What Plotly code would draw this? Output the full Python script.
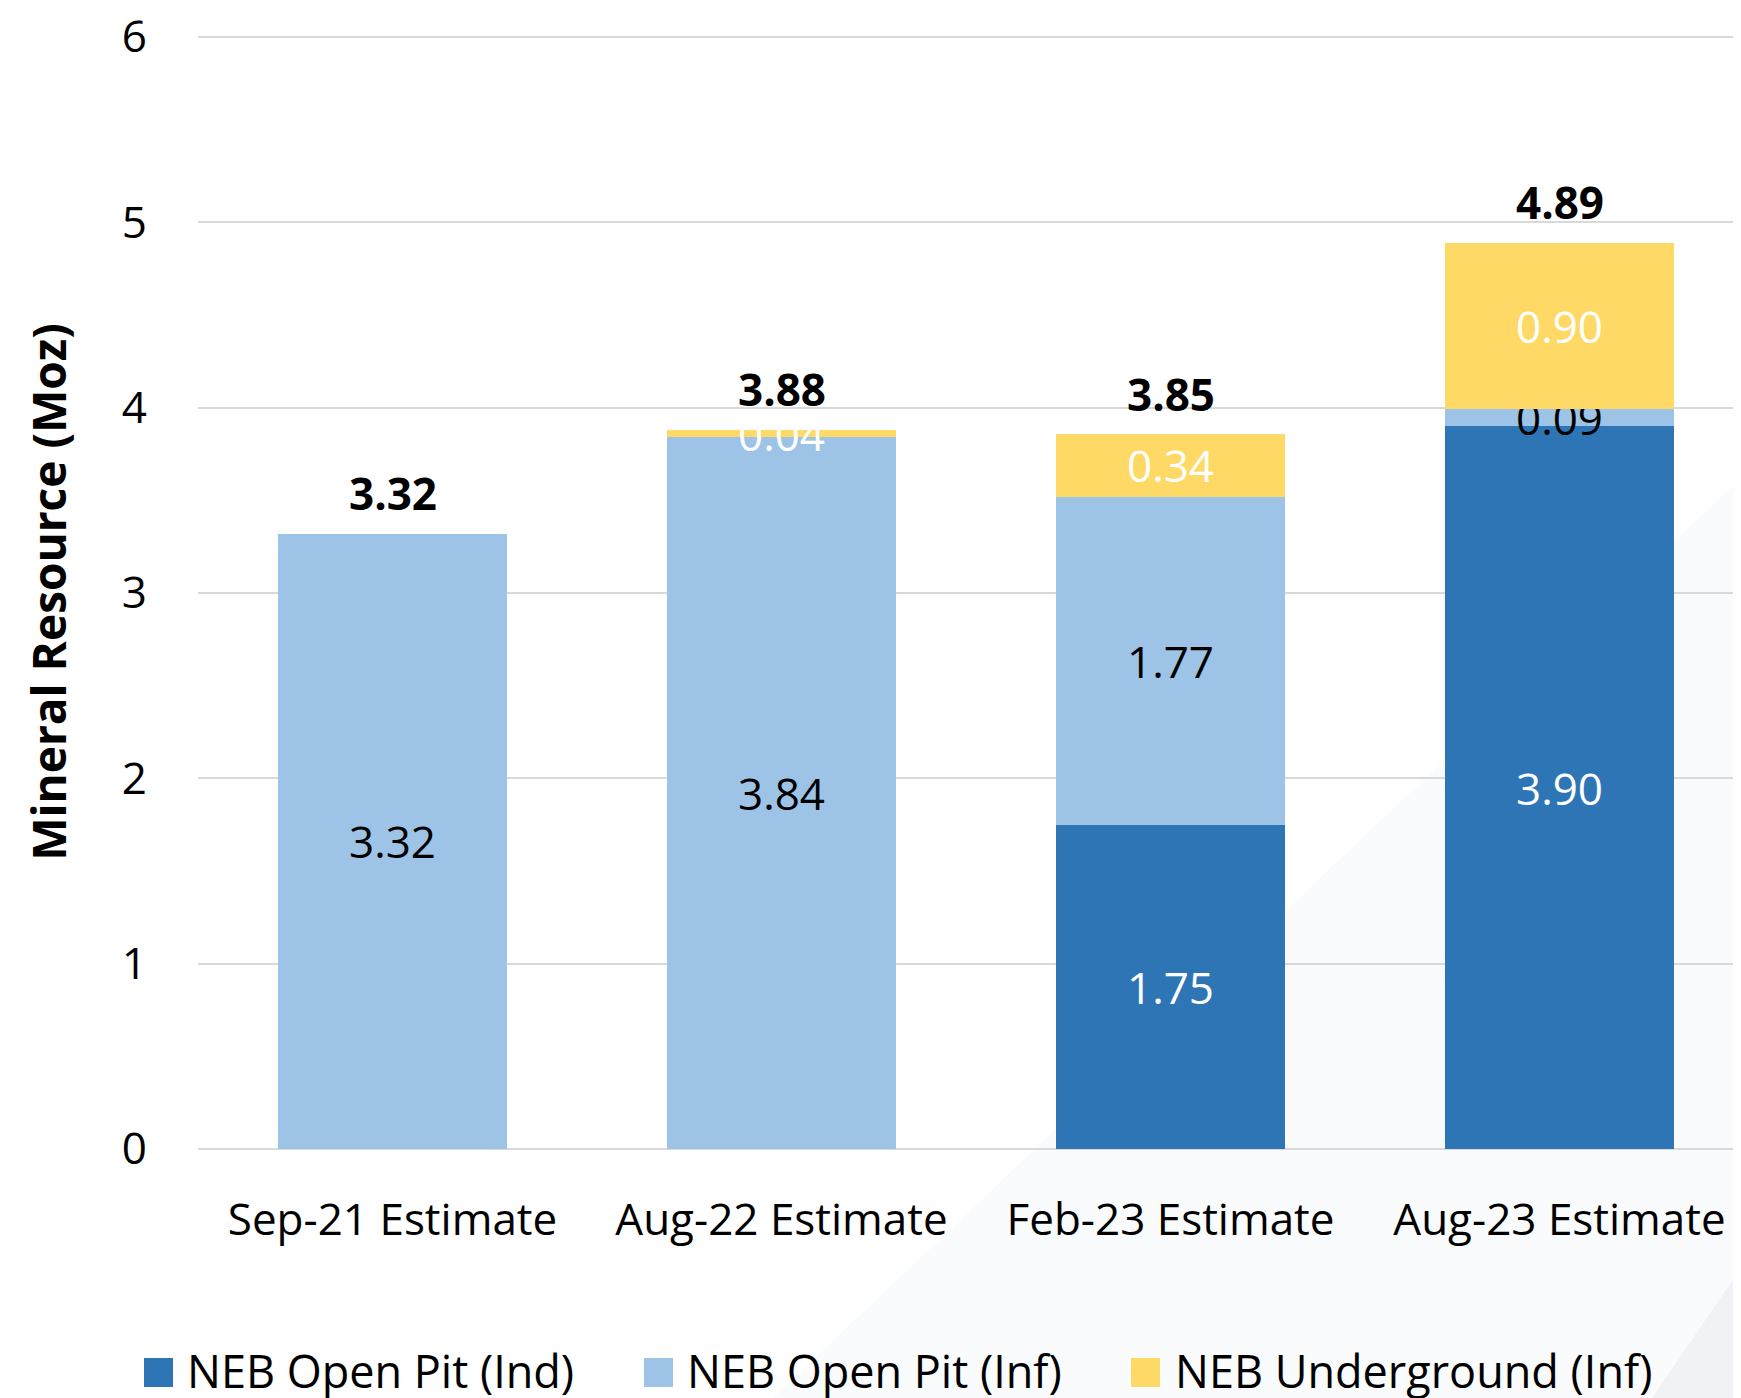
import plotly.graph_objects as go

categories = ["Sep-21 Estimate", "Aug-22 Estimate", "Feb-23 Estimate", "Aug-23 Estimate"]
open_pit_ind = [None, None, 1.75, 3.90]
open_pit_inf = [3.32, 3.84, 1.77, 0.09]
underground_inf = [None, 0.04, 0.34, 0.90]
totals = [3.32, 3.88, 3.85, 4.89]
y_ticks = [0, 1, 2, 3, 4, 5, 6]

series_names = ["NEB Open Pit (Ind)", "NEB Open Pit (Inf)", "NEB Underground (Inf)"]
series_colors = ["#2E75B6", "#9DC3E6", "#FFD966"]
label_colors = ["#FFFFFF", "#000000", "#FFFFFF"]

FONT = "Open Sans, Noto Sans, sans-serif"
W, H = 1741, 1398
OFF = 8  # page body margin offset
ML, MR, MT, MB = 198 - OFF, 0, 35 - OFF, H - (1149 - OFF)
PW, PH = W - ML - MR, H - MT - MB


def px2x(px):
    # screen pixel -> paper coordinate
    return (px - OFF - ML) / PW


def px2y(py):
    return (H - MB - (py - OFF)) / PH


fig = go.Figure()
for vals, name, col, lcol in zip([open_pit_ind, open_pit_inf, underground_inf],
                                 series_names, series_colors, label_colors):
    fig.add_trace(go.Bar(
        x=categories, y=vals, name=name,
        marker=dict(color=col, line=dict(width=0)),
        text=[("" if v is None else f"{v:.2f}") for v in vals],
        textposition="inside", insidetextanchor="middle",
        constraintext="none", textangle=0, cliponaxis=False,
        textfont=dict(family=FONT, size=44, color=lcol),
        showlegend=False, hoverinfo="skip",
    ))

annotations = []
for c, t in zip(categories, totals):
    annotations.append(dict(
        x=c, y=t, xref="x", yref="y", text=f"<b>{t:.2f}</b>", showarrow=False,
        yanchor="middle", yshift=41,
        font=dict(family=FONT, size=44, color="#000000"),
    ))

# manual legend (large swatches)
shapes = []
legend_items = [(144, 185), (644, 685), (1131, 1173)]
for (sx, tx), name, col in zip(legend_items, series_names, series_colors):
    shapes.append(dict(type="rect", xref="paper", yref="paper",
                       x0=px2x(sx), x1=px2x(sx + 29), y0=px2y(1387), y1=px2y(1358),
                       fillcolor=col, line=dict(width=0), layer="above"))
    annotations.append(dict(x=px2x(tx), y=px2y(1370), xref="paper", yref="paper",
                            xanchor="left", yanchor="middle", showarrow=False, text=name,
                            font=dict(family=FONT, size=45, color="#000000")))

# faint decorative background
shapes.append(dict(type="path", xref="paper", yref="paper", layer="below",
                   path=f"M {px2x(760)},{px2y(1410)} L {px2x(1760)},{px2y(460)} L {px2x(1760)},{px2y(1410)} Z",
                   fillcolor="#fafbfc", line=dict(width=0)))
shapes.append(dict(type="path", xref="paper", yref="paper", layer="below",
                   path=f"M {px2x(1644)},{px2y(1410)} L {px2x(1760)},{px2y(1240)} L {px2x(1760)},{px2y(1410)} Z",
                   fillcolor="#f1f2f5", line=dict(width=0)))

fig.update_layout(
    width=W, height=H,
    margin=dict(l=ML, r=MR, t=MT, b=MB, autoexpand=False),
    paper_bgcolor="white", plot_bgcolor="rgba(0,0,0,0)",
    barmode="stack", bargap=0.411,
    font=dict(family=FONT, size=44, color="#000000"),
    annotations=annotations, shapes=shapes,
    xaxis=dict(range=[-0.5, -0.5 + PW / 389.0], showgrid=False, showline=False, zeroline=False,
               ticks="", ticklabelstandoff=41,
               tickfont=dict(family=FONT, size=44, color="#000000")),
    yaxis=dict(range=[0, 6.01], tickvals=y_ticks, showgrid=True, gridcolor="#d9d9d9",
               gridwidth=2, zeroline=True, zerolinecolor="#d9d9d9", zerolinewidth=2,
               showline=False, ticks="", ticklabelstandoff=50, ticklabeloverflow="allow",
               tickfont=dict(family=FONT, size=44, color="#000000"),
               title=dict(text="<b>Mineral Resource (Moz)</b>", standoff=40,
                          font=dict(family=FONT, size=46, color="#000000"))),
)

fig.write_html("out.html")
